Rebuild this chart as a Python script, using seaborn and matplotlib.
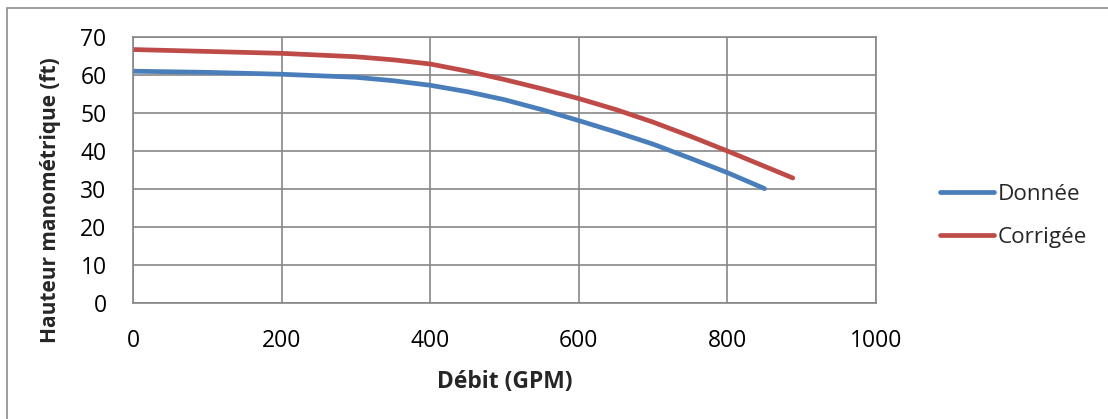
import matplotlib
matplotlib.use("Agg")
import matplotlib.pyplot as plt
import pandas as pd
import seaborn as sns

# Pump curve readings: flow (GPM) vs head (ft)
debit_donnee = [0, 100, 200, 300, 350, 400, 450, 500, 550, 600, 650, 700, 750, 800, 850]
hauteur_donnee = [61.0, 60.7, 60.2, 59.4, 58.5, 57.3, 55.6, 53.5, 50.9, 48.0, 45.0, 41.8, 38.1, 34.3, 30.1]

debit_corrigee = [0, 100, 200, 300, 350, 400, 450, 500, 550, 600, 650, 700, 750, 800, 888]
hauteur_corrigee = [66.7, 66.2, 65.7, 64.8, 64.0, 62.9, 61.0, 58.8, 56.4, 53.8, 50.9, 47.6, 43.9, 40.0, 32.9]

series_names = ["Donnée", "Corrigée"]
series_colors = ["#4A7EBB", "#BE4B48"]

x_ticks = [0, 200, 400, 600, 800, 1000]
y_ticks = [0, 10, 20, 30, 40, 50, 60, 70]

df = pd.concat([
    pd.DataFrame({"Débit": debit_donnee, "Hauteur": hauteur_donnee, "Série": series_names[0]}),
    pd.DataFrame({"Débit": debit_corrigee, "Hauteur": hauteur_corrigee, "Série": series_names[1]}),
])

sns.set_style("white")
plt.rcParams["font.family"] = ["Open Sans", "DejaVu Sans"]

fig = plt.figure(figsize=(11.08, 4.19), dpi=100)
ax = fig.add_axes([133 / 1108, 1 - 303 / 419, (876 - 133) / 1108, (303 - 37) / 419])

sns.lineplot(data=df, x="Débit", y="Hauteur", hue="Série", hue_order=series_names,
             palette=series_colors, linewidth=3.4, sort=False, estimator=None,
             solid_capstyle="round", solid_joinstyle="round", ax=ax)

grid_color = "#878787"
ax.set_xlim(0, 1000)
ax.set_ylim(0, 70)
ax.set_xticks(x_ticks)
ax.set_yticks(y_ticks)
ax.grid(True, color=grid_color, linewidth=1.2)
ax.set_axisbelow(True)
for s in ax.spines.values():
    s.set_visible(True)
    s.set_color(grid_color)
    s.set_linewidth(1.2)
ax.tick_params(axis="both", direction="out", length=6, width=1.2, color=grid_color,
               labelsize=16.5, labelcolor="#000000")
ax.tick_params(axis="y", pad=13)
ax.tick_params(axis="x", pad=13)

ax.set_xlabel("Débit (GPM)", fontsize=16.5, fontweight="bold", labelpad=12)
ax.set_ylabel("Hauteur manométrique (ft)", fontsize=15, fontweight="bold")
ax.yaxis.set_label_coords(-72 / 743, (303 - 200) / 266)

leg = ax.legend(loc="center left", bbox_to_anchor=(940 / 1108, 1 - 216 / 419),
                bbox_transform=fig.transFigure, frameon=False, fontsize=16.2,
                handlelength=2.4, handletextpad=0.15, labelspacing=0.95,
                borderaxespad=0, borderpad=0)
for line in leg.get_lines():
    line.set_linewidth(3.4)
    line.set_solid_capstyle("round")

# Outer chart frame
fig.patches.append(plt.Rectangle((7 / 1108, -0.2), 2.0, 1.2 - 8 / 419,
                                 transform=fig.transFigure, fill=False,
                                 edgecolor="#8C8C8C", linewidth=1.2))

fig.savefig("out.png", dpi=100, facecolor="white")
